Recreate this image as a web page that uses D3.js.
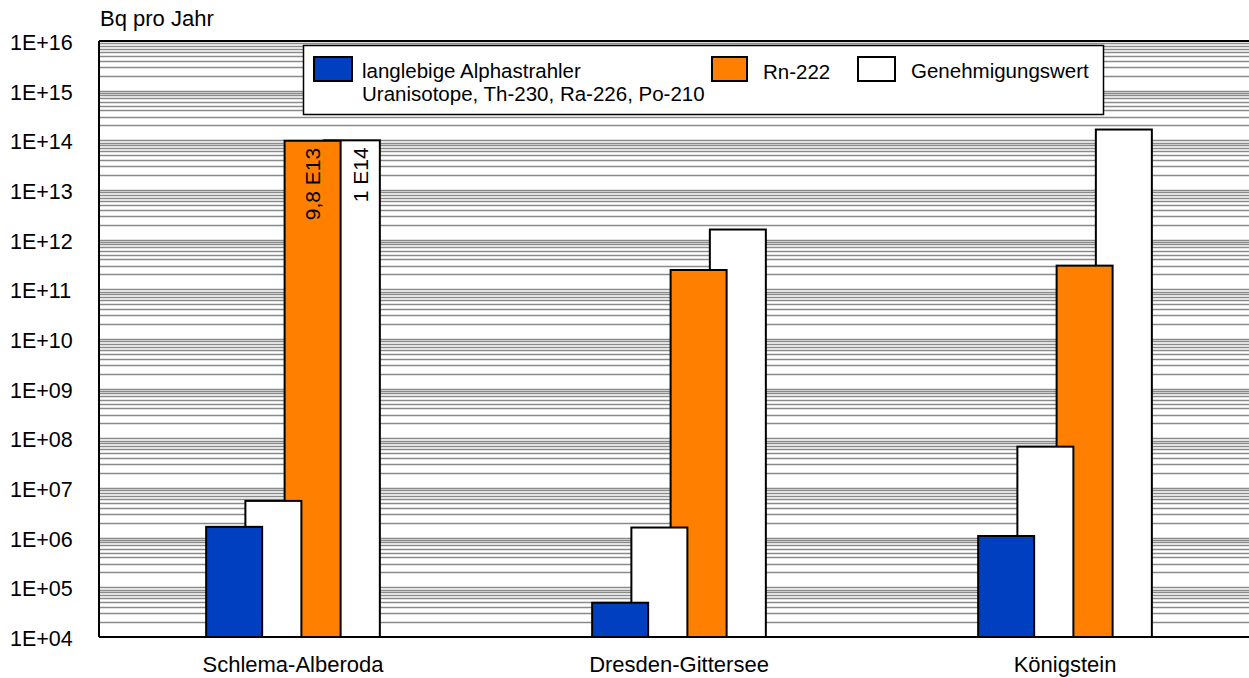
<!DOCTYPE html>
<html>
<head>
<meta charset="utf-8">
<script src="https://cdn.jsdelivr.net/npm/d3@7"></script>
<style>
  html, body { margin: 0; padding: 0; background: #fff; }
  svg { display: block; font-family: "Liberation Sans", Arial, sans-serif; }
</style>
</head>
<body>
<svg id="chart" width="1249" height="678"></svg>
<script>
const CATEGORIES  = ["Schlema-Alberoda", "Dresden-Gittersee", "Königstein"];
const ALPHA       = [1.65e6, 4.9e4, 1.08e6];
const ALPHA_LIMIT = [5.5e6, 1.6e6, 6.8e7];
const RN          = [9.8e13, 2.45e11, 3.0e11];
const RN_LIMIT    = [1e14, 1.6e12, 1.65e14];
const Y_TICKS     = [1e4, 1e5, 1e6, 1e7, 1e8, 1e9, 1e10, 1e11, 1e12, 1e13, 1e14, 1e15, 1e16];
const BAR_LABELS  = [
  { cat: 0, series: "rn",      text: "9,8 E13" },
  { cat: 0, series: "rnLimit", text: "1 E14" },
];

const SERIES = [
  { key: "alpha",      values: ALPHA,       fill: "#0040C0" },
  { key: "alphaLimit", values: ALPHA_LIMIT, fill: "#ffffff" },
  { key: "rn",         values: RN,          fill: "#FF8000" },
  { key: "rnLimit",    values: RN_LIMIT,    fill: "#ffffff" },
];

const W = 1249, H = 678;
const PLOT = { left: 99, top: 41, bottom: 637, right: 1258 };
const BAR_W = 56;
const FONT = 22;

const svg = d3.select("#chart");

const y = d3.scaleLog()
  .domain([1e4, 1e16])
  .range([PLOT.bottom, PLOT.top]);

const x0 = d3.scaleBand()
  .domain(CATEGORIES)
  .range([PLOT.left + 1, PLOT.right])
  .paddingInner(0.55)
  .paddingOuter(0.275);

const x1 = d3.scalePoint()
  .domain(SERIES.map(s => s.key))
  .range([0, x0.bandwidth() - BAR_W]);

// gridlines (log minor + major)
const gridTicks = y.ticks(40).filter(t => t > 1e4 && t < 1e16);
svg.append("g")
  .selectAll("line")
  .data(gridTicks)
  .join("line")
    .attr("x1", PLOT.left).attr("x2", W)
    .attr("y1", d => Math.round(y(d)) + 0.5).attr("y2", d => Math.round(y(d)) + 0.5)
    .attr("stroke", "#8a8a8a")
    .attr("stroke-width", 1.7);

// bars, last series drawn first so the first sits on top
const barRows = [];
SERIES.slice().reverse().forEach(s => {
  CATEGORIES.forEach((c, i) => barRows.push({ key: s.key, cat: c, value: s.values[i], fill: s.fill }));
});

svg.append("g")
  .selectAll("rect")
  .data(barRows)
  .join("rect")
    .attr("x", d => x0(d.cat) + x1(d.key))
    .attr("y", d => y(d.value))
    .attr("width", BAR_W)
    .attr("height", d => PLOT.bottom - y(d.value))
    .attr("fill", d => d.fill)
    .attr("stroke", "#000")
    .attr("stroke-width", 2);

// rotated value labels, centred on the visible part of the bar
const step = x1.step();
svg.append("g")
  .selectAll("text")
  .data(BAR_LABELS)
  .join("text")
    .attr("transform", d => {
      const s = SERIES.find(s => s.key === d.series);
      const left = x0(CATEGORIES[d.cat]) + x1(d.series);
      const cx = d.series === "rnLimit" ? left + BAR_W - step / 2 : left + BAR_W / 2;
      const top = y(s.values[d.cat]) + 7;
      return `translate(${cx + 7.5},${top}) rotate(-90)`;
    })
    .attr("text-anchor", "end")
    .attr("font-size", 21)
    .attr("fill", "#000")
    .text(d => d.text);

// axes lines
svg.append("line")
  .attr("x1", PLOT.left).attr("x2", W)
  .attr("y1", PLOT.top).attr("y2", PLOT.top)
  .attr("stroke", "#000").attr("stroke-width", 2);
svg.append("line")
  .attr("x1", PLOT.left).attr("x2", W)
  .attr("y1", PLOT.bottom).attr("y2", PLOT.bottom)
  .attr("stroke", "#000").attr("stroke-width", 2);
svg.append("line")
  .attr("x1", PLOT.left).attr("x2", PLOT.left)
  .attr("y1", PLOT.top).attr("y2", PLOT.bottom)
  .attr("stroke", "#000").attr("stroke-width", 2);

// y tick labels
svg.append("g")
  .selectAll("text")
  .data(Y_TICKS)
  .join("text")
    .attr("x", 10)
    .attr("y", d => y(d) + 9)
    .attr("font-size", 21.5)
    .attr("fill", "#000")
    .text(d => "1E+" + String(Math.round(Math.log10(d))).padStart(2, "0"));

svg.append("text")
  .attr("x", 100).attr("y", 26)
  .attr("font-size", FONT)
  .attr("fill", "#000")
  .text("Bq pro Jahr");

// category labels
svg.append("g")
  .selectAll("text")
  .data(CATEGORIES)
  .join("text")
    .attr("x", d => x0(d) + x0.bandwidth() / 2)
    .attr("y", 672)
    .attr("text-anchor", "middle")
    .attr("font-size", FONT)
    .attr("fill", "#000")
    .text(d => d);

// legend
const lg = svg.append("g");
lg.append("rect")
  .attr("x", 303.5).attr("y", 45.5)
  .attr("width", 800).attr("height", 69)
  .attr("fill", "#fff")
  .attr("stroke", "#000").attr("stroke-width", 1.5);

const legendItems = [
  { fill: "#0040C0", sx: 314, sw: 38, tx: 362, lines: ["langlebige Alphastrahler", "Uranisotope, Th-230, Ra-226, Po-210"] },
  { fill: "#FF8000", sx: 712, sw: 35, tx: 763, lines: ["Rn-222"], ty: 79 },
  { fill: "#ffffff", sx: 858, sw: 37, tx: 911, lines: ["Genehmigungswert"] },
];
legendItems.forEach(item => {
  lg.append("rect")
    .attr("x", item.sx).attr("y", 57)
    .attr("width", item.sw).attr("height", 24)
    .attr("fill", item.fill)
    .attr("stroke", "#000").attr("stroke-width", 2);
  item.lines.forEach((line, i) => {
    lg.append("text")
      .attr("x", item.tx)
      .attr("y", (item.ty || 77.5) + i * 23)
      .attr("font-size", 20.5)
      .attr("fill", "#000")
      .text(line);
  });
});
</script>
</body>
</html>
